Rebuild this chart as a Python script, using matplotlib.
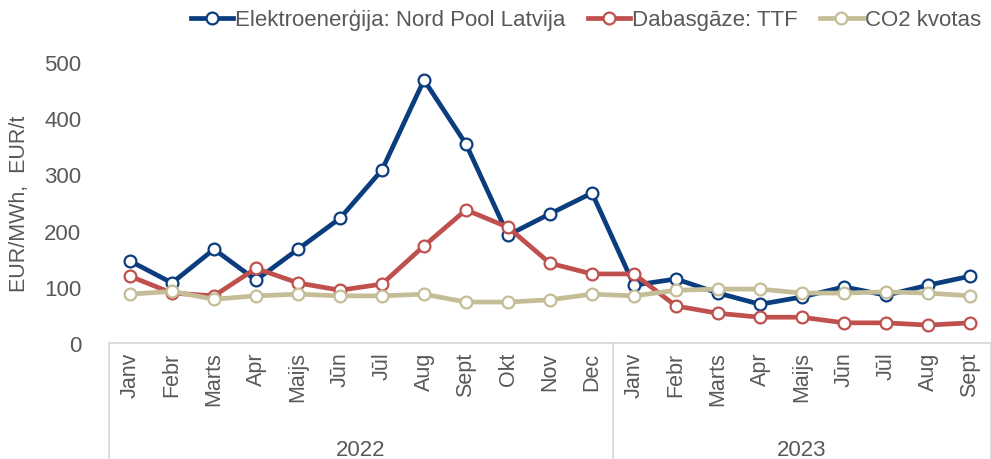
import numpy as np
import matplotlib.pyplot as plt

plt.rcParams['font.family'] = ['Liberation Sans', 'DejaVu Sans']

# Dati
menesi = ['Janv', 'Febr', 'Marts', 'Apr', 'Maijs', 'Jūn', 'Jūl', 'Aug', 'Sept', 'Okt', 'Nov', 'Dec',
          'Janv', 'Febr', 'Marts', 'Apr', 'Maijs', 'Jūn', 'Jūl', 'Aug', 'Sept']
gadi = ['2022', '2023']
gadu_garums = [12, 9]

elektro = [146, 107, 167, 112, 167, 222, 308, 468, 354, 192, 230, 267,
           103, 114, 89, 69, 82, 100, 85, 103, 119]
gaze = [119, 89, 84, 133, 107, 94, 105, 173, 237, 206, 142, 123,
        123, 66, 53, 46, 46, 36, 36, 32, 36]
co2 = [87, 92, 78, 84, 87, 84, 84, 87, 73, 73, 77, 87,
       84, 94, 96, 96, 89, 89, 91, 89, 84]

teksts = '#595959'
rezgis = '#d9d9d9'

fig = plt.figure(figsize=(9.91, 4.6), dpi=100)
ax = fig.add_axes([0.110, 0.252, 0.890, 0.611])

x = np.arange(len(menesi))
stils = dict(lw=3.4, marker='o', ms=8.5, mfc='white', mew=1.6, clip_on=False, zorder=3)
ax.plot(x, elektro, color='#0b3d7e', label='Elektroenerģija: Nord Pool Latvija', **stils)
ax.plot(x, gaze, color='#c0504d', label='Dabasgāze: TTF', **stils)
ax.plot(x, co2, color='#c4bd97', label='CO2 kvotas', **stils)

ax.set_xlim(-0.5, len(menesi) - 0.5)
ax.set_ylim(0, 500)
ax.set_yticks([0, 100, 200, 300, 400, 500])
ax.tick_params(axis='y', length=0, labelsize=16, labelcolor=teksts, pad=20)
ax.set_xticks(x)
ax.set_xticklabels(menesi, rotation=90)
ax.tick_params(axis='x', length=0, labelsize=15.5, labelcolor=teksts, pad=6)
for s in ax.spines.values():
    s.set_visible(False)

ax.set_ylabel('EUR/MWh,  EUR/t', fontsize=15.5, color=teksts, labelpad=10)

# kategoriju rāmis apakšā
tr = ax.get_xaxis_transform()
apaksa = -116 / 281
ax.plot([-0.5, len(menesi) - 0.5], [0, 0], transform=tr, color=rezgis, lw=1.3, clip_on=False, zorder=1)
robeza = -0.5
for g, n in zip(gadi, gadu_garums):
    ax.plot([robeza, robeza], [0, apaksa], transform=tr, color=rezgis, lw=1.3, clip_on=False)
    ax.text(robeza + n / 2, -0.377, g, transform=tr, ha='center', va='center',
            fontsize=16, color=teksts)
    robeza += n
ax.plot([robeza, robeza], [0, apaksa], transform=tr, color=rezgis, lw=1.3, clip_on=False)

fig.legend(loc='upper right', bbox_to_anchor=(1.01, 1.022), ncol=3, frameon=False,
           fontsize=16, labelcolor=teksts, handlelength=1.9, handletextpad=0.1,
           columnspacing=1.0)

fig.savefig('out.png', dpi=100)
